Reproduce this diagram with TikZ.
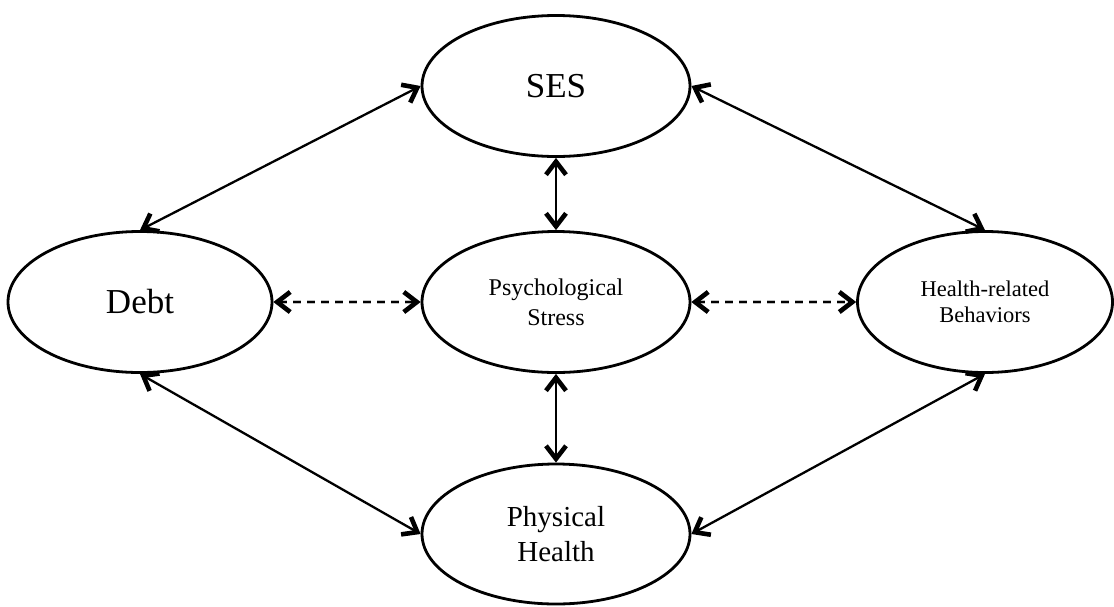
\documentclass[tikz,border=0pt]{standalone}
\usepackage{fontspec}
\setmainfont{Liberation Serif}
\usetikzlibrary{shapes.geometric,arrows.meta}
\tikzset{
  oval/.style={ellipse, draw, line width=2.8pt, inner sep=0pt, align=center, minimum height=141pt},
  tipb/.tip={Straight Barb[length=13pt,width=20pt,line width=4.6pt]},
  link/.style={line width=2.3pt, tipb-tipb},
  dlink/.style={line width=2.4pt, tipb-tipb, dash pattern=on 8pt off 6pt},
  shade/.style={line width=3.5pt, black, opacity=0.12, tipb-tipb, dash pattern=on 8pt off 6pt}
}
\begin{document}
\begin{tikzpicture}[x=1pt,y=-1pt]
\useasboundingbox (0,0) rectangle (1114,606);
\node[oval, minimum width=268pt, font=\fontsize{35}{40}\selectfont] (ses) at (556,86) {SES};
\node[oval, minimum width=268pt, font=\fontsize{24}{30}\selectfont] (psy) at (556,302) {Psychological\\Stress};
\node[oval, minimum width=264pt, font=\fontsize{35}{40}\selectfont] (debt) at (140,302) {Debt};
\node[oval, minimum width=255pt, font=\fontsize{22.5}{26}\selectfont] (hrb) at (985,302) {Health-related\\Behaviors};
\node[oval, minimum width=268pt, minimum height=140pt, font=\fontsize{29}{35}\selectfont] (ph) at (556,534) {Physical\\Health};
% shadows of dashed connectors
\begin{scope}[shift={(1.5,4)}]
\draw[shade] (debt.east) -- (psy.west);
\draw[shade] (psy.east) -- (hrb.west);
\end{scope}
\begin{scope}[shift={(1,2.5)}]
\draw[shade, opacity=0.15] (debt.east) -- (psy.west);
\draw[shade, opacity=0.15] (psy.east) -- (hrb.west);
\end{scope}
\draw[link] (ses.west) -- (debt.north);
\draw[link] (ses.east) -- (hrb.north);
\draw[link] (ses.south) -- (psy.north);
\draw[link] (psy.south) -- (ph.north);
\draw[link] (debt.south) -- (ph.west);
\draw[link] (hrb.south) -- (ph.east);
\draw[dlink] (debt.east) -- (psy.west);
\draw[dlink] (psy.east) -- (hrb.west);
\end{tikzpicture}
\end{document}
